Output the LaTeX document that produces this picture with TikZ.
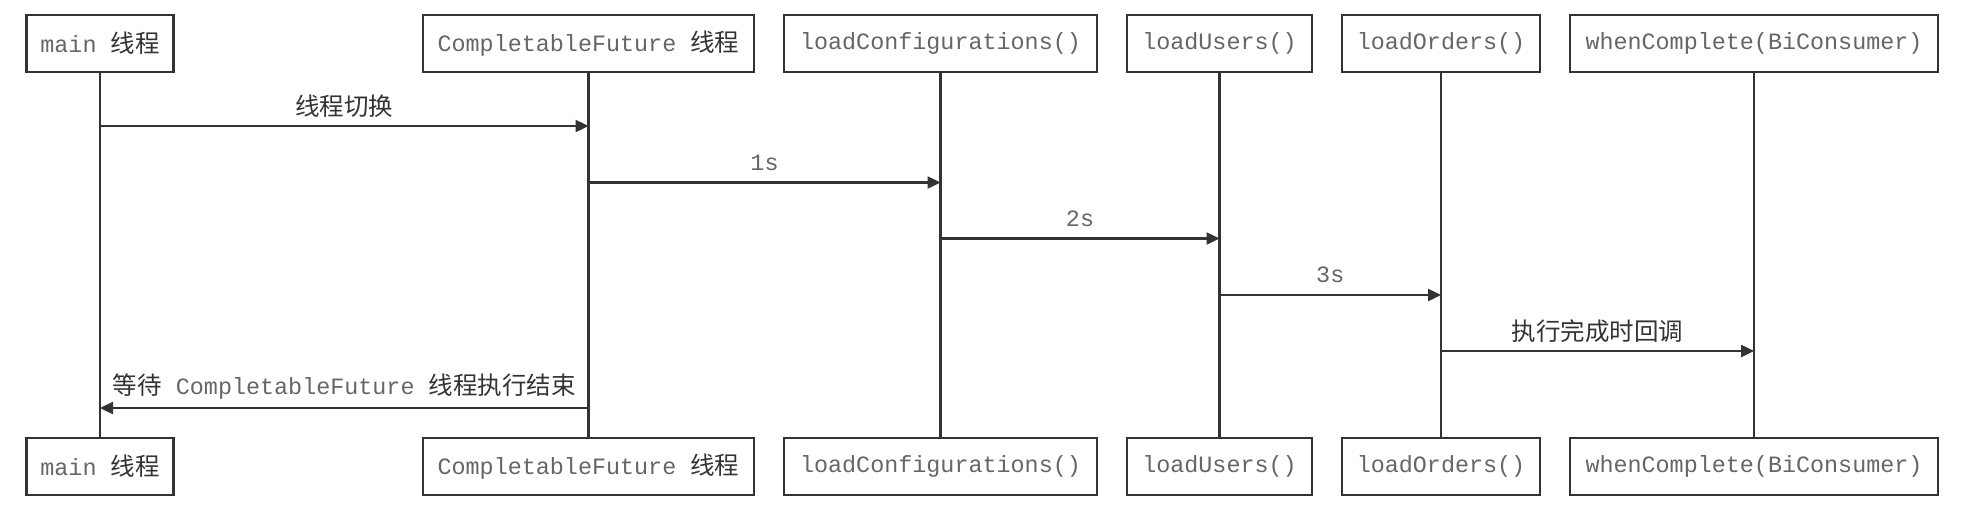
\documentclass[tikz,border=0pt]{standalone}
\usepackage{fontspec}
\setmainfont{Liberation Sans}
\setmonofont{Liberation Mono}
\newfontfamily\cjk{Noto Sans CJK SC}
\usetikzlibrary{arrows.meta}
\definecolor{ln}{HTML}{333333}
\definecolor{mt}{HTML}{666666}
\newcommand{\mn}[1]{{\ttfamily\fontsize{23.4}{26}\selectfont\color{mt}#1}}
\newcommand{\cn}[1]{{\cjk\fontsize{24.5}{28}\selectfont\color{ln}#1}}
\newcommand{\gap}{{\ttfamily\fontsize{23.4}{26}\selectfont\ }}
\tikzset{
  actor/.style={draw=ln, line width=2.6pt, fill=white, minimum height=57pt, inner sep=0pt},
  life/.style={draw=ln, line width=2.4pt},
  msg/.style={draw=ln, line width=2.4pt, -{Triangle[length=13pt,width=12pt]}},
  lbl/.style={inner sep=0pt, above=7pt},
  lblm/.style={inner sep=0pt, above=11pt},
}
\begin{document}
\begin{tikzpicture}[x=1pt,y=-1pt]
\useasboundingbox (0,0) rectangle (1974,512);
% top actors
\node[actor, minimum width=147pt] (tA) at (100,43.5) {\mn{main}\gap\cn{线程}};
\node[actor, minimum width=331pt] (tB) at (588.5,43.5) {\mn{CompletableFuture}\gap\cn{线程}};
\node[actor, minimum width=313pt] (tC) at (940.5,43.5) {\mn{loadConfigurations()}};
\node[actor, minimum width=185pt] (tD) at (1219.5,43.5) {\mn{loadUsers()}};
\node[actor, minimum width=198pt] (tE) at (1441,43.5) {\mn{loadOrders()}};
\node[actor, minimum width=368pt] (tF) at (1754,43.5) {\mn{whenComplete(BiConsumer)}};
% bottom actors
\node[actor, minimum width=147pt] (bA) at (100,466.5) {\mn{main}\gap\cn{线程}};
\node[actor, minimum width=331pt] (bB) at (588.5,466.5) {\mn{CompletableFuture}\gap\cn{线程}};
\node[actor, minimum width=313pt] (bC) at (940.5,466.5) {\mn{loadConfigurations()}};
\node[actor, minimum width=185pt] (bD) at (1219.5,466.5) {\mn{loadUsers()}};
\node[actor, minimum width=198pt] (bE) at (1441,466.5) {\mn{loadOrders()}};
\node[actor, minimum width=368pt] (bF) at (1754,466.5) {\mn{whenComplete(BiConsumer)}};
% lifelines
\foreach \n in {A,B,C,D,E,F} {\draw[life] (t\n.south) -- (b\n.north);}
% message rows
\coordinate (m1) at (0,126);
\coordinate (m2) at (0,182.5);
\coordinate (m3) at (0,238.5);
\coordinate (m4) at (0,295);
\coordinate (m5) at (0,351);
\coordinate (m6) at (0,408);
\draw[msg] (tA |- m1) -- node[lbl] {\cn{线程切换}} (tB |- m1);
\draw[msg] (tB |- m2) -- node[lblm] {\mn{1s}} (tC |- m2);
\draw[msg] (tC |- m3) -- node[lblm] {\mn{2s}} (tD |- m3);
\draw[msg] (tD |- m4) -- node[lblm] {\mn{3s}} (tE |- m4);
\draw[msg] (tE |- m5) -- node[lbl] {\cn{执行完成时回调}} (tF |- m5);
\draw[msg] (tB |- m6) -- node[lbl] {\cn{等待}\gap\mn{CompletableFuture}\gap\cn{线程执行结束}} (tA |- m6);
\end{tikzpicture}
\end{document}
